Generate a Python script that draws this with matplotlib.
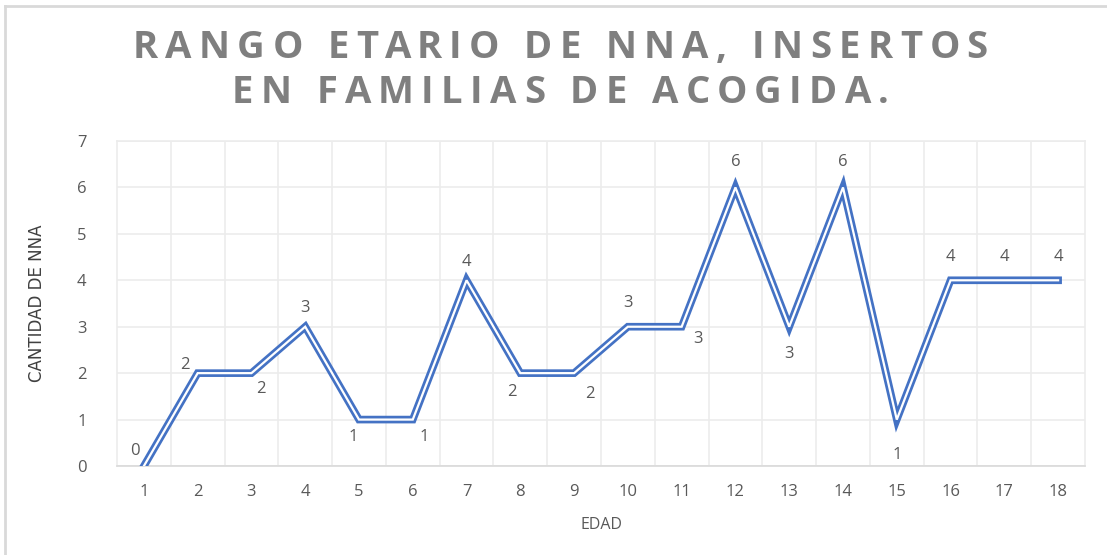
import matplotlib
matplotlib.use('Agg')
import matplotlib.pyplot as plt
from matplotlib.lines import Line2D

# Datos del gráfico
edades = list(range(1, 19))
cantidad = [0, 2, 2, 3, 1, 1, 4, 2, 2, 3, 3, 6, 3, 6, 1, 4, 4, 4]
titulo = ['RANGO ETARIO DE NNA, INSERTOS', 'EN FAMILIAS DE ACOGIDA.']
# desplazamiento de cada etiqueta (pixeles) respecto del punto
offsets = [(-9, 15), (-13, 8), (9, -16), (0, 19), (-6, -17), (11, -17),
           (0, 18), (-8, -19), (16, -21), (0, 24), (16, -12), (0, 25),
           (0, -27), (0, 25), (0, -35), (0, 23), (0, 23), (0, 23)]

gris = '#595959'
azul = '#4472C4'

fig = plt.figure(figsize=(11.07, 5.55), dpi=100)
ax = fig.add_axes([117 / 1107, 1 - 466 / 555, 968 / 1107, 325 / 555])

ax.plot(edades, cantidad, color=azul, lw=5.5, solid_joinstyle='miter', zorder=3)
ax.plot(edades, cantidad, color='white', lw=1.6, solid_joinstyle='miter', zorder=4)

for x, y, off in zip(edades, cantidad, offsets):
    ax.annotate(str(y), (x, y), xytext=off, textcoords='offset pixels',
                ha='center', va='center', fontsize=12, color=gris,
                family='Open Sans', zorder=5)

ax.set_xlim(0.5, 18.5)
ax.set_ylim(0, 7)
ax.set_xticks(edades)
ax.set_yticks(range(0, 8))
ax.set_xticks([e + 0.5 for e in edades[:-1]], minor=True)
ax.tick_params(which='both', length=0)
ax.tick_params(axis='x', pad=13, labelsize=12, labelcolor=gris)
ax.tick_params(axis='y', pad=22, labelsize=12, labelcolor=gris)
for lab in ax.get_xticklabels() + ax.get_yticklabels():
    lab.set_family('Open Sans')
ax.grid(axis='y', color='#ececec', lw=1.2)
ax.grid(axis='x', which='minor', color='#ececec', lw=1.2)
for s in ['top', 'right', 'left']:
    ax.spines[s].set_color('#ececec')
    ax.spines[s].set_linewidth(1.2)
ax.spines['bottom'].set_color('#d9d9d9')
ax.spines['bottom'].set_linewidth(1.2)

ax.set_xlabel('EDAD', fontsize=11.5, color=gris, family='Open Sans', labelpad=12)
ax.set_ylabel('CANTIDAD DE NNA', fontsize=12, color='#404040',
              family='Liberation Sans Narrow', labelpad=22)

# título con espaciado entre letras
renderer = fig.canvas.get_renderer()
estilo = dict(fontsize=27.5, fontweight='bold', color='#7f7f7f', family='Open Sans')
for linea, yc, ancho in [(titulo[0], 48, 855), (titulo[1], 93, 657)]:
    t = fig.text(0, 0, linea, **estilo)
    w0 = t.get_window_extent(renderer).width
    t.remove()
    paso = (ancho - w0) / (len(linea) - 1)
    x0 = 560 - ancho / 2
    for i, ch in enumerate(linea):
        pre = fig.text(0, 0, linea[:i] + '|', **estilo)
        bar = fig.text(0, 0, '|', **estilo)
        wpre = pre.get_window_extent(renderer).width - bar.get_window_extent(renderer).width
        pre.remove()
        bar.remove()
        fig.text((x0 + wpre + i * paso) / 1107, 1 - yc / 555, ch, ha='left', va='center', **estilo)

# borde del área del gráfico
fig.add_artist(Line2D([5 / 1107, 5 / 1107], [0, 1 - 6 / 555], color='#d9d9d9', lw=2,
                      transform=fig.transFigure))
fig.add_artist(Line2D([5 / 1107, 1106 / 1107], [1 - 6 / 555, 1 - 6 / 555], color='#d9d9d9',
                      lw=2, transform=fig.transFigure))

plt.savefig('out.png', dpi=100)
plt.close()
